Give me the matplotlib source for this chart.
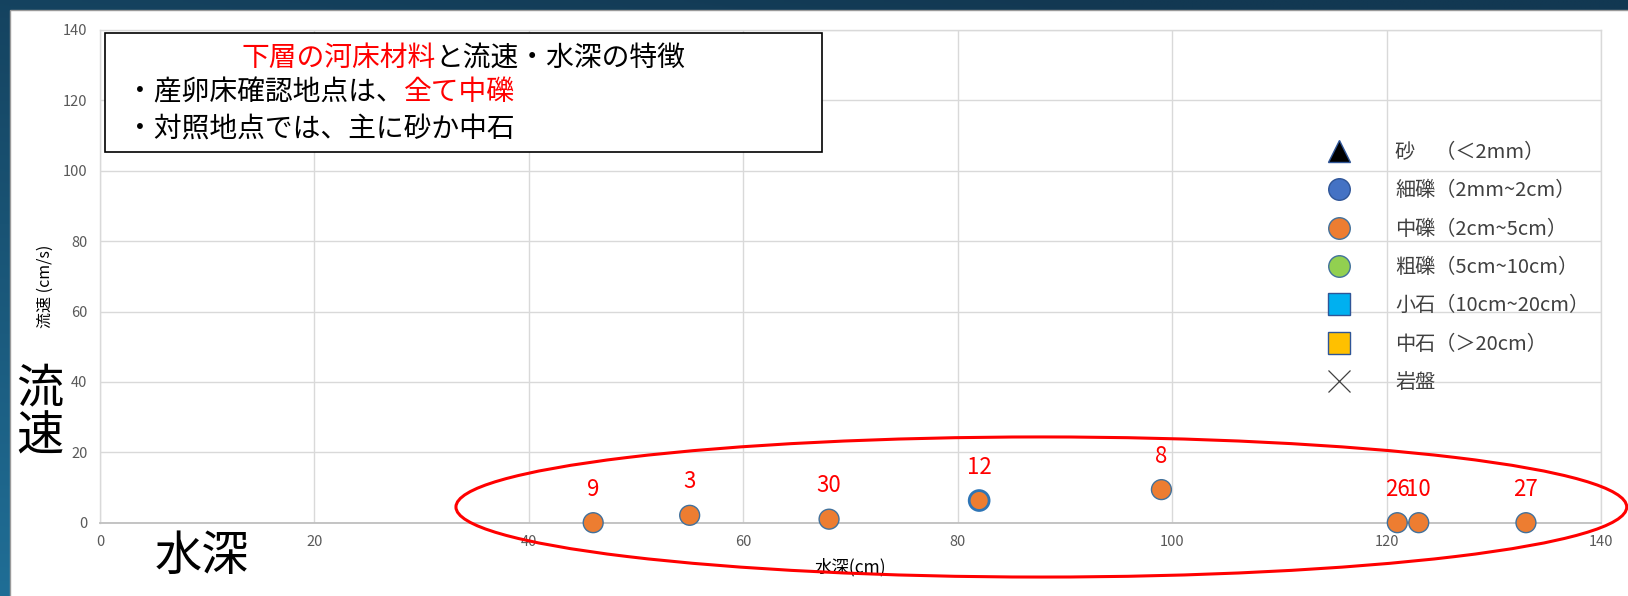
import matplotlib
matplotlib.use("Agg")
import matplotlib.pyplot as plt
import numpy as np
from matplotlib.patches import Ellipse, Rectangle
from matplotlib.lines import Line2D
from matplotlib.offsetbox import TextArea, HPacker, AnchoredOffsetbox

plt.rcParams["font.family"] = ["Noto Sans CJK JP", "DejaVu Sans"]

W, H, DPI = 1628, 596, 100

# Survey points: water depth (cm), flow velocity (cm/s), site number, lower-layer bed material
depth = [46, 55, 68, 82, 99, 121, 123, 133]
velocity = [0, 2.1, 1.0, 6.3, 9.4, 0, 0, 0]
site_no = ["9", "3", "30", "12", "8", "26", "10", "27"]
bed_material = ["中礫", "中礫", "中礫", "中礫", "中礫", "中礫", "中礫", "中礫"]

# Bed-material classes and their legend text
materials = ["砂", "細礫", "中礫", "粗礫", "小石", "中石", "岩盤"]
material_labels = ["砂　（＜2mm）", "細礫（2mm~2cm）", "中礫（2cm~5cm）", "粗礫（5cm~10cm）",
                   "小石（10cm~20cm）", "中石（＞20cm）", "岩盤"]

x_ticks = [0, 20, 40, 60, 80, 100, 120, 140]
y_ticks = [0, 20, 40, 60, 80, 100, 120, 140]

styles = {
    "砂": dict(marker="^", fc="#000000", ec="#2F5597"),
    "細礫": dict(marker="o", fc="#4472C4", ec="#2F5597"),
    "中礫": dict(marker="o", fc="#ED7D31", ec="#41719C"),
    "粗礫": dict(marker="o", fc="#92D050", ec="#41719C"),
    "小石": dict(marker="s", fc="#00B0F0", ec="#2F5597"),
    "中石": dict(marker="s", fc="#FFC000", ec="#2F5597"),
    "岩盤": dict(marker="x", fc="#404040", ec="#404040"),
}

fig = plt.figure(figsize=(W / DPI, H / DPI), dpi=DPI)

# ---- slide-style background: dark blue frame with white panel ----
bg = fig.add_axes([0, 0, 1, 1], zorder=-10)
bg.set_axis_off()
yy, xx = np.mgrid[0:1:200j, 0:1:400j]
t = np.clip(0.8 * yy + 0.3 * (1 - xx) - 0.1, 0, 1)
c_dark = np.array([0x12, 0x38, 0x52]) / 255
c_light = np.array([0x20, 0x6E, 0x96]) / 255
bg.imshow(c_dark + (c_light - c_dark) * t[..., None], extent=[0, 1, 0, 1],
          aspect="auto", origin="upper")
bg.add_patch(Rectangle((10 / W, -0.01), 1, (H - 10) / H + 0.01, transform=bg.transAxes,
                       fc="white", ec="#9a9a9a", lw=1))
bg.set_xlim(0, 1)
bg.set_ylim(0, 1)

# ---- scatter axes ----
ax = fig.add_axes([100 / W, (H - 522.7) / H, (1601 - 100) / W, (522.7 - 29.9) / H])
ax.set_facecolor("white")
ax.set_xlim(0, 140)
ax.set_ylim(0, 140)
ax.set_xticks(x_ticks)
ax.set_yticks(y_ticks)
ax.grid(True, color="#D9D9D9", lw=1)
ax.set_axisbelow(True)
for side in ["left", "top", "right"]:
    ax.spines[side].set_color("#D9D9D9")
    ax.spines[side].set_linewidth(1)
ax.spines["bottom"].set_color("#BFBFBF")
ax.spines["bottom"].set_linewidth(1.3)
ax.tick_params(length=0, labelsize=10.5, labelcolor="#595959", pad=9)

depth_a = np.array(depth)
vel_a = np.array(velocity)
mat_a = np.array(bed_material)
site_a = np.array(site_no)
for m in materials:
    sel = mat_a == m
    if not sel.any():
        continue
    st = styles[m]
    edge = ["#2E75B6" if s == "12" else st["ec"] for s in site_a[sel]]
    lw = [2.0 if s == "12" else 1.0 for s in site_a[sel]]
    ax.scatter(depth_a[sel], vel_a[sel], s=205, marker=st["marker"], c=st["fc"],
               edgecolors=edge, linewidths=lw, zorder=3, clip_on=False)

for x, y, s in zip(depth, velocity, site_no):
    ax.annotate(s, (x, y), xytext=(0, 24), textcoords="offset points", ha="center",
                va="center", color="#FF0000", fontsize=16, zorder=4)

ax.set_xlabel("水深(cm)", fontsize=12.5, color="black", labelpad=6)
ax.set_ylabel("流速 (cm/s)", fontsize=11.5, color="black")
ax.yaxis.set_label_coords(-46 / 1501, 0.479)

# legend with all bed-material classes
handles = []
for m, lab in zip(materials, material_labels):
    st = styles[m]
    if st["marker"] == "x":
        h = Line2D([], [], ls="none", marker="x", ms=16, mec="#404040", mew=0.9, label=lab)
    else:
        h = Line2D([], [], ls="none", marker=st["marker"], ms=15.5, mfc=st["fc"],
                   mec=st["ec"], mew=1.0, label=lab)
    handles.append(h)
leg = fig.legend(handles=handles, loc="upper left",
                 bbox_to_anchor=(1329 / W, (H - 142) / H), frameon=False,
                 fontsize=14.5, handlelength=1.0, handletextpad=2.3, labelspacing=0.86,
                 borderpad=0, borderaxespad=0)
for txt in leg.get_texts():
    txt.set_color("#404040")

# red ellipse around the spawning-bed sites
ax.add_patch(Ellipse((87.8, 4.46), 109.2, 39.8, fill=False, ec="#FF0000", lw=2.2,
                     clip_on=False, zorder=6))

# ---- summary text box ----
box = Rectangle((105 / W, (H - 152) / H), (822 - 105) / W, (152 - 33) / H,
                transform=fig.transFigure, fc="white", ec="black", lw=1.2, zorder=5)
fig.patches.append(box)


def colored_line(x_px, y_px, pieces, loc, size=20):
    areas = [TextArea(txt, textprops=dict(color=col, fontsize=size)) for txt, col in pieces]
    row = HPacker(children=areas, align="baseline", pad=0, sep=0)
    anch = AnchoredOffsetbox(loc=loc, child=row, pad=0, borderpad=0, frameon=False,
                             bbox_to_anchor=(x_px / W, (H - y_px) / H),
                             bbox_transform=fig.transFigure)
    anch.set_zorder(6)
    fig.add_artist(anch)


colored_line(463.5, 58, [("下層の河床材料", "#FF0000"), ("と流速・水深の特徴", "black")], "center")
colored_line(126, 92, [("・産卵床確認地点は、", "black"), ("全て中礫", "#FF0000")], "center left")
colored_line(126, 129, [("・対照地点では、主に砂か中石", "black")], "center left")

# large axis captions
fig.text(40 / W, (H - 413) / H, "流\n速", fontsize=34, ha="center", va="center",
         linespacing=1.0, color="black")
fig.text(202 / W, (H - 557) / H, "水深", fontsize=34, ha="center", va="center",
         color="black")

fig.savefig("out.png", dpi=DPI)
